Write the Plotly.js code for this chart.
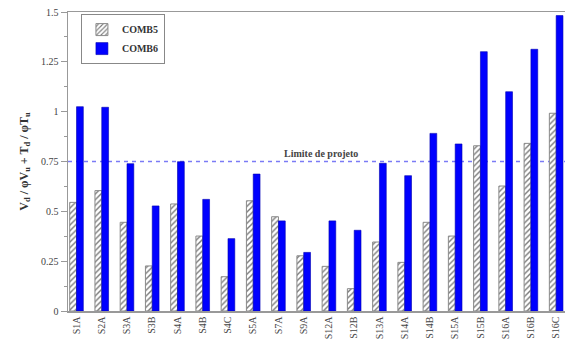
<!DOCTYPE html>
<html>
<head>
<meta charset="utf-8">
<script src="https://cdn.plot.ly/plotly-3.0.1.min.js"></script>
<style>
  html, body { margin: 0; padding: 0; background: #fff; }
  #chart { width: 565px; height: 352px; }
</style>
</head>
<body>
<div id="chart"></div>
<script>
// Specimens along the x axis
const specimens = ["S1A", "S2A", "S3A", "S3B", "S4A", "S4B", "S4C", "S5A", "S7A", "S9A",
                   "S12A", "S12B", "S13A", "S14A", "S14B", "S15A", "S15B", "S16A", "S16B", "S16C"];

// Interaction ratio for each load combination
const comb5 = [0.545, 0.604, 0.445, 0.226, 0.537, 0.376, 0.172, 0.553, 0.473, 0.277,
               0.224, 0.112, 0.346, 0.244, 0.445, 0.376, 0.829, 0.627, 0.841, 0.992];
const comb6 = [1.025, 1.022, 0.739, 0.527, 0.749, 0.560, 0.363, 0.687, 0.452, 0.294,
               0.452, 0.405, 0.741, 0.679, 0.891, 0.838, 1.301, 1.100, 1.313, 1.482];

// Design limit
const designLimit = 0.75;
const yTicks = [0, 0.25, 0.5, 0.75, 1, 1.25, 1.5];
const yTickText = ["0", "0.25", "0.5", "0.75", "1", "1.25", "1.5"];

const serif = "Liberation Serif, Times New Roman, serif";
const textColor = "#444";
const axisColor = "#999";

const traces = [
  {
    type: "bar",
    name: "COMB5",
    x: specimens,
    y: comb5,
    marker: {
      color: "#ffffff",
      pattern: { shape: "/", fgcolor: "#7a7a7a", bgcolor: "#ffffff", size: 4, solidity: 0.35 },
      line: { color: "#8a8a8a", width: 1 }
    }
  },
  {
    type: "bar",
    name: "COMB6",
    x: specimens,
    y: comb6,
    marker: { color: "#0000ff", line: { color: "#0000b0", width: 0.6 } }
  }
];

const layout = {
  width: 565,
  height: 352,
  margin: { l: 68, r: 0, t: 12, b: 41 },
  paper_bgcolor: "#ffffff",
  plot_bgcolor: "#ffffff",
  barmode: "group",
  bargap: 0.46,
  bargroupgap: 0,
  showlegend: true,
  legend: {
    x: 0.026, y: 0.993, xanchor: "left", yanchor: "top",
    bgcolor: "#ffffff",
    bordercolor: "#888",
    borderwidth: 1,
    font: { family: serif, size: 10, color: "#333", weight: "bold" },
    tracegroupgap: 0,
    itemwidth: 30
  },
  font: { family: serif, size: 10, color: textColor },
  xaxis: {
    type: "category",
    range: [-0.337, 19.35],
    showline: true,
    linecolor: axisColor,
    linewidth: 1.5,
    mirror: true,
    ticks: "",
    tickangle: -90,
    showgrid: false,
    zeroline: false,
    tickfont: { family: serif, size: 10, color: textColor }
  },
  yaxis: {
    range: [0, 1.5],
    tickvals: yTicks,
    ticktext: yTickText,
    showline: true,
    linecolor: axisColor,
    linewidth: 1.5,
    ticks: "outside",
    ticklen: 6,
    tickcolor: axisColor,
    tickwidth: 1,
    minor: { dtick: 0.125, ticks: "outside", ticklen: 3, tickcolor: axisColor, showgrid: false },
    showgrid: false,
    zeroline: false,
    tickfont: { family: serif, size: 10, color: textColor },
    title: {
      text: "V<sub>d</sub> / φV<sub>u</sub> + T<sub>d</sub> / φT<sub>u</sub>",
      font: { family: serif, size: 12, color: "#333", weight: "bold" },
      standoff: 10
    }
  },
  shapes: [
    {
      type: "line",
      xref: "paper", x0: 0, x1: 1,
      yref: "y", y0: designLimit, y1: designLimit,
      line: { color: "#7b7bf5", width: 1.5, dash: "4px,4px" },
      layer: "below"
    }
  ],
  annotations: [
    {
      text: "Limite de projeto",
      xref: "x", x: 9.7,
      yref: "y", y: designLimit,
      yanchor: "bottom",
      showarrow: false,
      yshift: 1,
      font: { family: serif, size: 10, color: "#444", weight: "bold" }
    }
  ]
};

Plotly.newPlot("chart", traces, layout, { displayModeBar: false, staticPlot: true });
</script>
</body>
</html>
